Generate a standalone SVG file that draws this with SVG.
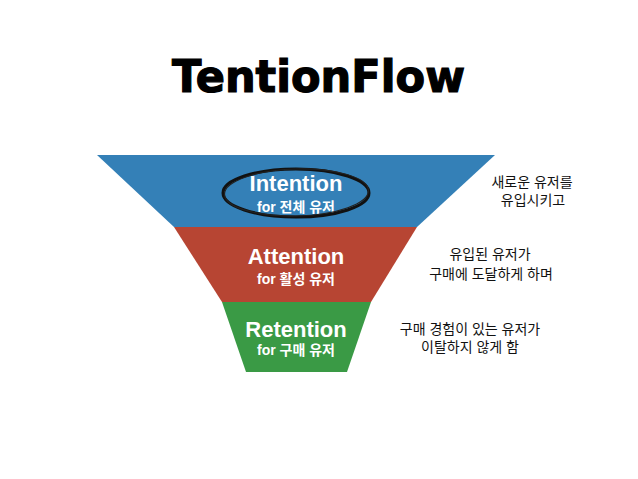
<svg xmlns="http://www.w3.org/2000/svg" width="638" height="479" viewBox="0 0 638 479">
<style>
.stage{font-family:"Liberation Sans","Noto Sans CJK KR",sans-serif;font-weight:bold;fill:#fff;text-anchor:middle}
.big{font-size:22px}
.small{font-size:14px}
.note{font-family:"Liberation Sans","Noto Sans CJK KR",sans-serif;font-size:14px;fill:#111;text-anchor:middle}
.title{font-family:"DejaVu Sans",sans-serif;font-weight:bold;font-size:44px;fill:#000;stroke:#000;stroke-width:1.2;text-anchor:middle}
</style>
<rect width="638" height="479" fill="#fff"/>
<text class="title" x="318.5" y="92" textLength="293" lengthAdjust="spacingAndGlyphs">TentionFlow</text>
<g id="intention">
<polygon points="97,155 495,155 417,227 174,227" fill="#3480b7"/>
<text class="stage big" x="296" y="191">Intention</text>
<text class="stage small" x="296" y="212">for 전체 유저</text>
<ellipse cx="296" cy="193" rx="73" ry="24" fill="none" stroke="#111" stroke-width="3"/>
<ellipse cx="296.5" cy="192.5" rx="72" ry="23.5" fill="none" stroke="#222" stroke-width="1.2" transform="rotate(-1.5 296 193)"/>
</g>
<g id="attention">
<polygon points="174,227 417,227 371,302 222,302" fill="#b74533"/>
<text class="stage big" x="296" y="264">Attention</text>
<text class="stage small" x="296" y="284">for 활성 유저</text>
</g>
<g id="retention">
<polygon points="222,302 371,302 347,372 246,372" fill="#3a9a45"/>
<text class="stage big" x="296" y="337">Retention</text>
<text class="stage small" x="296" y="355">for 구매 유저</text>
</g>
<g id="note-intention">
<text class="note" x="532" y="187">새로운 유저를</text>
<text class="note" x="533" y="205">유입시키고</text>
</g>
<g id="note-attention">
<text class="note" x="490" y="259">유입된 유저가</text>
<text class="note" x="491" y="279">구매에 도달하게 하며</text>
</g>
<g id="note-retention">
<text class="note" x="470" y="334">구매 경험이 있는 유저가</text>
<text class="note" x="470" y="352">이탈하지 않게 함</text>
</g>
</svg>
